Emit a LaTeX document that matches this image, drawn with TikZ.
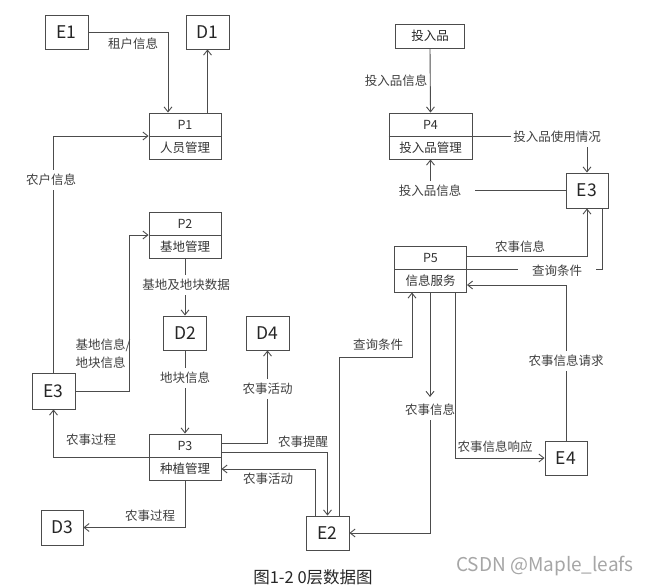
\documentclass[tikz,border=0pt]{standalone}
\usepackage{fontspec}
\setmainfont{Noto Sans CJK SC}
\usetikzlibrary{arrows.meta,calc}
\newcommand\mkproc[6]{%
  \node[proc,minimum width=#4] (#1) at (#2,#3) {};
  \draw[line] (#1.west) -- (#1.east);
  \node[ptxt] (#1-t) at ($(#1.center)+(0,-11.5)$) {#5};
  \node[ptxt] (#1-b) at ($(#1.center)+(0,11.5)$) {#6};}
\begin{document}
\begin{tikzpicture}[x=1pt,y=-1pt,
  line/.style={draw=black!70,line width=0.9pt},
  arr/.style={line,-{Straight Barb[length=5pt,width=8pt]}},
  ent/.style={draw=black!70,line width=0.9pt,minimum width=43pt,minimum height=34pt,inner sep=0pt,text=black!85,font=\fontsize{17.5}{17.5}\selectfont},
  proc/.style={draw=black!70,line width=0.9pt,minimum height=46pt,inner sep=0pt},
  ptxt/.style={font=\fontsize{12.5}{13}\selectfont,text=black!80,inner sep=0pt},
  lbl/.style={font=\fontsize{12.5}{13}\selectfont,text=black!75,inner sep=2pt},
  lblw/.style={lbl,fill=white,inner ysep=4pt}
]
\useasboundingbox[fill=white] (0,0) rectangle (664,586);

% entities and stores
\node[ent] (e1) at (66.5,32) {E1};
\node[ent] (d1) at (207.5,32) {D1};
\node[ent,minimum height=36pt] (e3l) at (53.5,391) {E3};
\node[ent] (d2) at (185,333) {D2};
\node[ent] (d4) at (267.5,333) {D4};
\node[ent,minimum width=42pt,minimum height=35pt] (d3) at (62,527.5) {D3};
\node[ent] (e2) at (327.5,533) {E2};
\node[ent,minimum width=42pt,minimum height=35pt] (e3r) at (587,190.5) {E3};
\node[ent,minimum width=42pt] (e4) at (566,458) {E4};
\node[ent,minimum width=69pt,minimum height=24pt,font=\fontsize{12.5}{13}\selectfont] (inp) at (430,36) {投入品};

% processes
\mkproc{p1}{185}{136}{72pt}{P1}{人员管理}
\mkproc{p2}{185}{235}{72pt}{P2}{基地管理}
\mkproc{p3}{185}{457}{72pt}{P3}{种植管理}
\mkproc{p4}{430.5}{136}{83pt}{P4}{投入品管理}
\mkproc{p5}{430.5}{269}{72pt}{P5}{信息服务}

% flows
\draw[arr] (e1.east) -| ([xshift=-17pt]p1.north);
\node[lbl] (l1) at (133,44) {租户信息};
\draw[arr] (p1.north -| d1.south) -- (d1.south);

\draw[arr] (e3l.north) |- (p1.west);
\node[lblw] (l3) at (51,180) {农户信息};

\draw[arr] (e3l.east) -| ([xshift=-19pt]p2.west) -- (p2.west);
\node[lbl,align=left,font=\fontsize{12.5}{18}\selectfont] (l4) at (103,354) {基地信息/\\地块信息};

\draw[arr] (p2.south) -- (d2.north);
\node[lblw] (l5) at (186,285) {基地及地块数据};

\draw[arr] (d2.south) -- (p3.north);
\node[lblw] (l6) at (185,378) {地块信息};

\draw[arr] ([yshift=14pt]p3.east) -| (d4.south);
\node[lblw] (l7) at (267.5,389) {农事活动};

\draw[arr] (p3.west) -| (e3l.south);
\node[lbl] (l8) at (91,440) {农事过程};

\draw[arr] (p3.south) |- (d3.east);
\node[lbl] (l9) at (150,516) {农事过程};

\draw[arr] ([yshift=5pt]p3.east) -| (e2.north);
\node[lbl] (l10) at (303,442) {农事提醒};

\draw[arr] ([xshift=-12pt]e2.north) |- ([yshift=-12pt]p3.east);
\node[lbl] (l11) at (268,479) {农事活动};

\draw[arr] ([xshift=12pt]e2.north) |- ([xshift=-18.5pt,yshift=-65pt]p5.south) -- ([xshift=-18.5pt]p5.south);
\node[lbl] (l12) at (378,345) {查询条件};

\node[lblw] (l13) at (430,410) {农事信息};
\draw[arr] ([xshift=-0.5pt]p5.south) -- ([yshift=3pt]l13.north);
\draw[arr] (l13.south) |- (e2.east);

\draw[arr] ([xshift=24.5pt]p5.south) |- (e4.west);
\node[lbl] (l14) at (495,447) {农事信息响应};

\draw[arr] (e4.north) |- ([yshift=-16pt]p5.east);
\node[lblw] (l15) at (566,361) {农事信息请求};

\draw[arr] ([yshift=13pt]p5.east) -| (e3r.south);
\node[lbl] (l16) at (520,247) {农事信息};

\draw[line] ([xshift=15pt]e3r.south) |- (p5.east);
\node[lblw,inner xsep=14pt] (l17) at (557,271) {查询条件};

\draw[arr] (inp.south) -- (p4.north);
\node[lbl] (l18) at (396,81) {投入品信息};

\draw[arr] (p4.east) -| (e3r.north);
\node[lblw] (l19) at (557,137) {投入品使用情况};

\draw[arr] (e3r.west) -| (p4.south);
\node[lblw,inner xsep=14pt] (l20) at (430,191) {投入品信息};

% caption and watermark
\node[font=\fontsize{16.5}{16.5}\selectfont,text=black!85] (cap) at (313,577) {图1-2 0层数据图};
\node[font=\fontsize{19}{19}\selectfont,text=black!35] (wm) at (545,566) {CSDN @Maple\_leafs};
\end{tikzpicture}
\end{document}
